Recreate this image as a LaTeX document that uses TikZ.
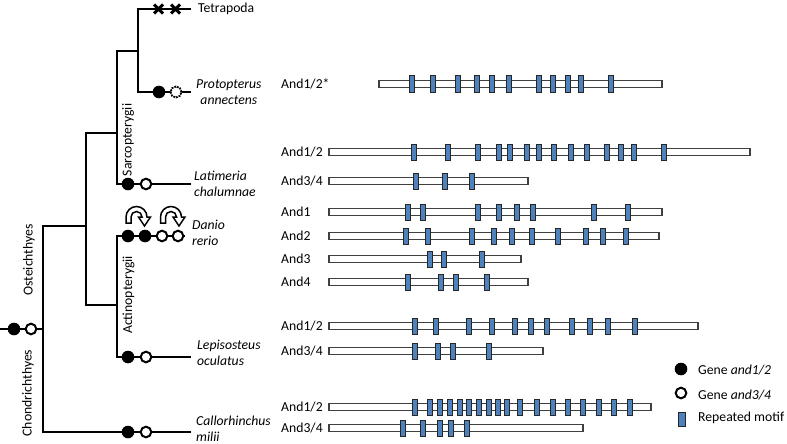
\documentclass[tikz,border=0pt]{standalone}
\usepackage{fontspec}
\setmainfont{Carlito}
\definecolor{motifblue}{RGB}{79,129,189}
\definecolor{motifedge}{RGB}{38,38,38}
\definecolor{baredge}{RGB}{64,64,64}
\tikzset{
  tree/.style={line width=2.5pt, line cap=rect, line join=miter},
  lab/.style={font=\fontsize{13.7}{16}\selectfont, inner sep=0pt, anchor=west},
  species/.style={font=\fontsize{13.7}{16}\selectfont\itshape, inner sep=0pt, anchor=west, align=left},
  clade/.style={font=\fontsize{13.7}{16}\selectfont, inner sep=0pt, rotate=90},
  full/.style={fill=black},
  hollow/.style={fill=white, draw=black, line width=2pt},
  ghost/.style={fill=white, draw=black, line width=1.8pt, densely dotted},
  barst/.style={fill=white, draw=baredge, line width=1.1pt},
  motif/.style={fill=motifblue, draw=motifedge, line width=1pt},
  cross/.style={line width=3pt},
  dupar/.style={fill=white, draw=black, line width=1.5pt, line join=miter}
}
\newcommand{\gbar}[5]{%
  \node[lab] (lab#1) at (281,#1) {#5};
  \draw[barst] (#2,#1-3.25) rectangle (#3,#1+3.25);
  \foreach \m in {#4} {\draw[motif] (\m-2.75,#1-8) rectangle (\m+2.75,#1+8);}
}
\newcommand{\duparrow}[1]{%
  \draw[dupar] (#1-10.5,223) -- (#1-10.5,217)
    arc[start angle=180, end angle=0, radius=10.5pt]
    -- (#1+14,217) -- (#1+8,226) -- (#1+2,217) -- (#1+5.5,217)
    arc[start angle=0, end angle=180, radius=5.5pt]
    -- (#1-5.5,223) -- cycle;
}
\begin{document}
\begin{tikzpicture}[x=1pt, y=-1pt]
\useasboundingbox (0,0) rectangle (787,444);
% tree coordinates
\coordinate (tT) at (190,9);
\coordinate (tL) at (138,9);
\coordinate (tJ) at (138,51);
\coordinate (pL) at (138,92);
\coordinate (pT) at (190,92);
\coordinate (sJt) at (117,51);
\coordinate (sJ) at (117,133);
\coordinate (lL) at (117,184);
\coordinate (lT) at (190,184);
\coordinate (oJt) at (86,133);
\coordinate (oJ) at (86,226);
\coordinate (oJb) at (86,305);
\coordinate (aJ) at (117,305);
\coordinate (dL) at (117,236);
\coordinate (dT) at (184,236);
\coordinate (eL) at (117,357);
\coordinate (eT) at (190,357);
\coordinate (rJt) at (43,226);
\coordinate (rJ) at (43,329);
\coordinate (r0) at (0,329);
\coordinate (cL) at (43,432);
\coordinate (cT) at (190,432);
% branches
\draw[tree] (tT) -- (tL) -- (pL) -- (pT);
\draw[tree] (tJ) -- (sJt);
\draw[tree] (sJt) -- (lL) -- (lT);
\draw[tree] (sJ) -- (oJt);
\draw[tree] (oJt) -- (oJb);
\draw[tree] (oJb) -- (aJ);
\draw[tree] (dT) -- (dL) -- (eL) -- (eT);
\draw[tree] (oJ) -- (rJt);
\draw[tree] (rJt) -- (cL) -- (cT);
\draw[tree] (r0) -- (rJ);
% gene losses on Tetrapoda
\draw[cross] (154,4.5) -- (163,13.5) (154,13.5) -- (163,4.5);
\draw[cross] (171,4.5) -- (180,13.5) (171,13.5) -- (180,4.5);
% gene markers
\fill[full] (159,92) circle[radius=6.3pt];
\draw[ghost] (176,92) circle[radius=5.5pt];
\fill[full] (128,184) circle[radius=6.3pt];
\draw[hollow] (146,184) circle[radius=5.3pt];
\fill[full] (128,236) circle[radius=6.3pt];
\fill[full] (145,236) circle[radius=6.3pt];
\draw[hollow] (162,236) circle[radius=5.3pt];
\draw[hollow] (178,236) circle[radius=5.3pt];
\fill[full] (128,357) circle[radius=6.3pt];
\draw[hollow] (146,357) circle[radius=5.3pt];
\fill[full] (128,432) circle[radius=6.3pt];
\draw[hollow] (146,432) circle[radius=5.3pt];
\fill[full] (14,329) circle[radius=6.3pt];
\draw[hollow] (31,329) circle[radius=5.3pt];
% duplication arrows
\duparrow{136.5}
\duparrow{171}
% taxon labels
\node[lab] (tetra) at (198,9) {Tetrapoda};
\node[species, align=center] (proto) at (196,92) {Protopterus\\annectens};
\node[species] (lati) at (194,183.5) {Latimeria\\chalumnae};
\node[species] (danio) at (192,233) {Danio\\rerio};
\node[species] (lepi) at (197,353) {Lepisosteus\\oculatus};
\node[species] (callo) at (196,428.5) {Callorhinchus\\milii};
% clade labels
\node[clade] (sarco) at (128,140) {Sarcopterygii};
\node[clade] (actino) at (128.5,295) {Actinopterygii};
\node[clade] (osteo) at (29,260) {Osteichthyes};
\node[clade] (chond) at (28,393) {Chondrichthyes};
% protein bars
\gbar{84}{379}{662}{412,433,458,477,492,509,539,553,568,581,611}{And1/2*}
\gbar{152}{329}{750}{414,448,478,499,510,527,539,554,571,587,607,621,634,664}{And1/2}
\gbar{181}{329}{528}{416,445,472}{And3/4}
\gbar{212}{329}{662}{408,423,478,499,517,533,594,628}{And1}
\gbar{236}{329}{659}{406,428,472,494,512,532,558,586,603,626}{And2}
\gbar{259}{329}{521}{430,444,482}{And3}
\gbar{282}{329}{528}{408,441,456,487}{And4}
\gbar{326}{329}{698}{415,436,469,492,515,531,547,572,590,608,635}{And1/2}
\gbar{351}{329}{543}{415,438,453,489}{And3/4}
\gbar{407}{329}{651}{415,430,440,450,460,469,479,489,498,507,520,537,553,568,583,599,614,630}{And1/2}
\gbar{428}{329}{583}{403,423,440,451,467}{And3/4}
% legend
\fill[full] (681,369) circle[radius=6.3pt];
\node[lab] (leg1) at (698,370) {Gene \textit{and1/2}};
\draw[hollow] (681,393) circle[radius=5.3pt];
\node[lab] (leg2) at (698,395) {Gene \textit{and3/4}};
\draw[motif] (678.5,412) rectangle (685.5,426);
\node[lab] (leg3) at (698,418) {Repeated motif};
\end{tikzpicture}
\end{document}
